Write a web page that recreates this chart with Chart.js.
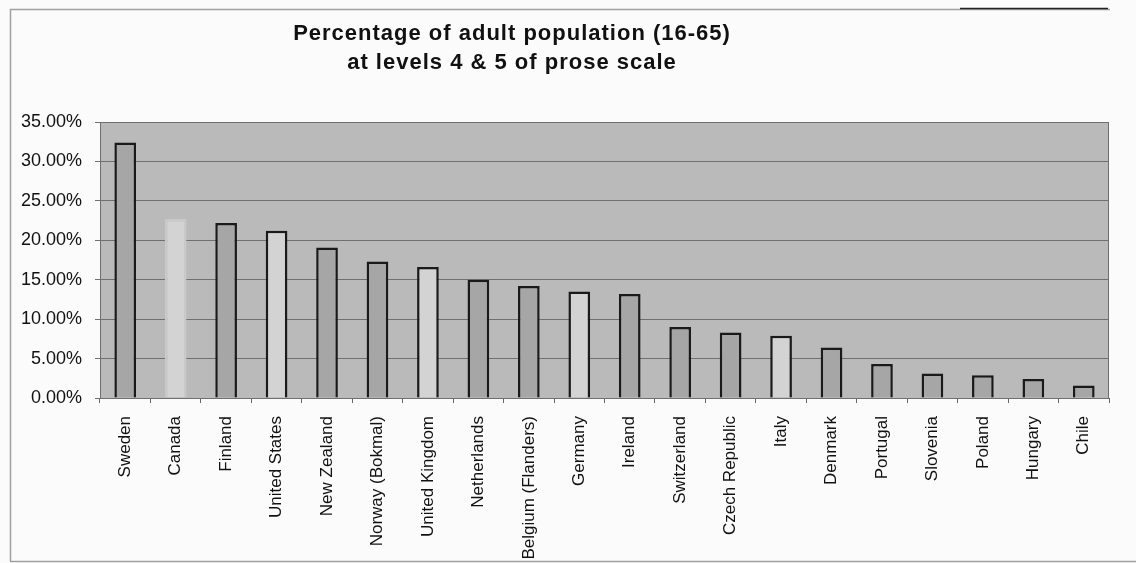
<!DOCTYPE html>
<html>
<head>
<meta charset="utf-8">
<script src="https://cdn.jsdelivr.net/npm/chart.js@4/dist/chart.umd.min.js"></script>
<style>
  html, body { margin: 0; padding: 0; background: #fbfbfb; }
  #wrap { width: 1136px; height: 563px; position: relative; }
</style>
</head>
<body>
<div id="wrap"><canvas id="c" width="1136" height="563"></canvas></div>
<script>
// Countries, ordered by share of adults at prose levels 4 & 5
const countries = [
  'Sweden', 'Canada', 'Finland', 'United States', 'New Zealand',
  'Norway (Bokmal)', 'United Kingdom', 'Netherlands', 'Belgium (Flanders)', 'Germany',
  'Ireland', 'Switzerland', 'Czech Republic', 'Italy', 'Denmark',
  'Portugal', 'Slovenia', 'Poland', 'Hungary', 'Chile'
];

// Percentage of adult population (16-65) at levels 4 & 5
const proseShare = [
  32.4, 22.7, 22.2, 21.2, 19.1,
  17.3, 16.6, 15.0, 14.2, 13.5,
  13.2, 9.0, 8.3, 7.9, 6.4,
  4.3, 3.1, 2.9, 2.4, 1.6
];

// Y-axis tick values (percent)
const yTicks = [0, 5, 10, 15, 20, 25, 30, 35];

// Title lines
const titleLines = [
  'Percentage of adult population (16-65)',
  'at levels 4 & 5 of prose scale'
];

// Shade used for each bar
const lightBars = ['Canada', 'United States', 'United Kingdom', 'Germany', 'Italy'];
const fillColors = countries.map(c => lightBars.includes(c) ? '#d3d3d3' : '#a6a6a6');
const edgeColors = countries.map(c => c === 'Canada' ? '#c9c9c9' : '#1a1a1a');

// Grey plot background, frame and title
const decor = {
  id: 'decor',
  beforeDraw(chart) {
    const { ctx, chartArea: a } = chart;
    ctx.save();
    ctx.fillStyle = '#bababa';
    ctx.fillRect(a.left, a.top, a.right - a.left, a.bottom - a.top);
    // outer frame
    ctx.strokeStyle = '#a0a0a0';
    ctx.lineWidth = 1.5;
    ctx.beginPath();
    ctx.moveTo(10.5, 562);
    ctx.lineTo(10.5, 9.5);
    ctx.lineTo(1110, 9.5);
    ctx.moveTo(10.5, 561.5);
    ctx.lineTo(1136, 561.5);
    ctx.stroke();
    ctx.strokeStyle = '#222';
    ctx.beginPath();
    ctx.moveTo(960, 8.5);
    ctx.lineTo(1108, 8.5);
    ctx.stroke();
    ctx.restore();
  },
  afterDraw(chart) {
    const { ctx, chartArea: a } = chart;
    ctx.save();
    ctx.strokeStyle = '#6f6f6f';
    ctx.lineWidth = 1;
    ctx.strokeRect(a.left + 0.5, a.top + 0.5, a.right - a.left - 1, a.bottom - a.top);
    ctx.fillStyle = '#111';
    ctx.font = 'bold 22px "Liberation Sans", Arial, sans-serif';
    ctx.textAlign = 'center';
    ctx.textBaseline = 'middle';
    if ('letterSpacing' in ctx) ctx.letterSpacing = '1px';
    ctx.fillText(titleLines[0], 512, 34);
    ctx.fillText(titleLines[1], 512, 63);
    ctx.restore();
  }
};

new Chart(document.getElementById('c'), {
  type: 'bar',
  data: {
    labels: countries,
    datasets: [{
      data: proseShare,
      backgroundColor: fillColors,
      borderColor: edgeColors,
      borderWidth: 2.5,
      borderSkipped: 'bottom',
      categoryPercentage: 1,
      barPercentage: 0.43
    }]
  },
  options: {
    responsive: false,
    animation: false,
    layout: { padding: { top: 122, left: 10, right: 27, bottom: 0 } },
    plugins: {
      legend: { display: false },
      title: { display: false },
      tooltip: { enabled: false }
    },
    scales: {
      x: {
        afterFit(s) { s.height = 165; },
        grid: {
          offset: true,
          drawOnChartArea: false,
          drawTicks: true,
          tickLength: 5,
          color: '#666'
        },
        border: { color: '#555', width: 1 },
        ticks: {
          autoSkip: false,
          minRotation: 90,
          maxRotation: 90,
          padding: 13,
          color: '#111',
          font: { family: '"Liberation Sans", Arial, sans-serif', size: 17 }
        }
      },
      y: {
        min: 0,
        max: 35,
        afterFit(s) { s.width = 90; },
        afterBuildTicks(s) { s.ticks = yTicks.map(v => ({ value: v })); },
        grid: {
          color: '#707070',
          lineWidth: 1,
          tickLength: 5
        },
        border: { color: '#666' },
        ticks: {
          padding: 13,
          color: '#111',
          font: { family: '"Liberation Sans", Arial, sans-serif', size: 18 },
          callback: v => v.toFixed(2) + '%'
        }
      }
    }
  },
  plugins: [decor]
});
</script>
</body>
</html>
